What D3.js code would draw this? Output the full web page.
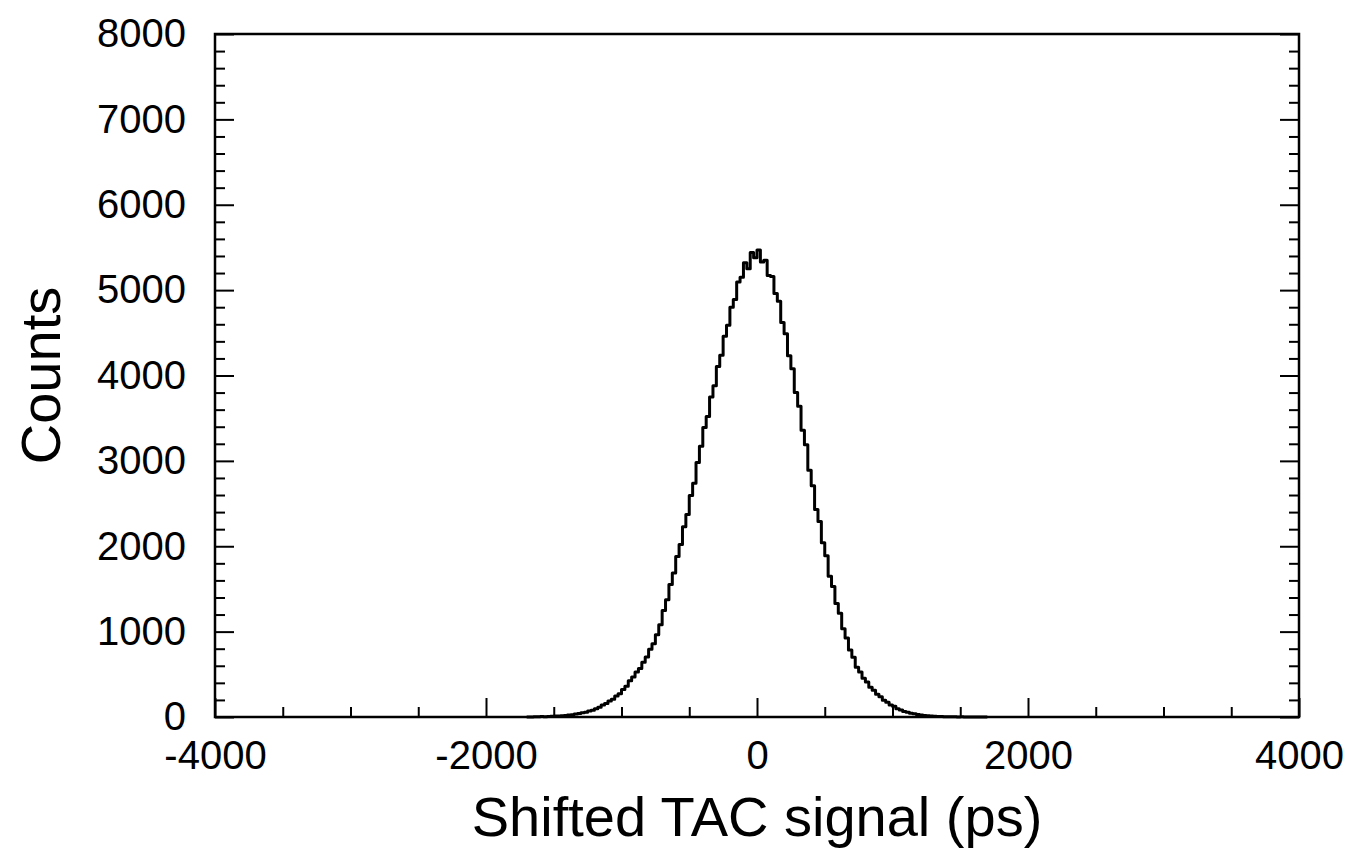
<!DOCTYPE html>
<html>
<head>
<meta charset="utf-8">
<script src="https://cdn.jsdelivr.net/npm/d3@7"></script>
<style>
  html, body { margin: 0; padding: 0; background: #fff; }
  svg { display: block; font-family: "Liberation Sans", Arial, Helvetica, sans-serif; }
</style>
</head>
<body>
<svg id="chart" width="1352" height="850"></svg>
<script>
// ---- data ----
const binStart = -1700;   // ps, left edge of first bin
const binWidth = 25;      // ps
const counts = [
  0, 1, 3, 2, 5, 4, 7, 8, 11, 12, 16, 18, 24, 27, 35, 40, 50, 55, 70, 79,
  98, 113, 141, 157, 186, 207, 246, 273, 322, 360, 424, 468, 526, 569, 641, 703, 793, 858, 962, 1081,
  1246, 1372, 1553, 1688, 1880, 2021, 2228, 2371, 2594, 2738, 2980, 3170, 3390, 3521, 3748, 3880, 4105, 4236, 4460, 4590,
  4800, 4890, 5095, 5150, 5320, 5250, 5440, 5380,
  5470, 5330, 5350, 5170, 5160, 4960, 4870, 4620, 4490, 4230, 4080, 3800, 3640, 3360, 3190, 2890, 2710, 2430, 2290, 2040,
  1890, 1650, 1530, 1330, 1215, 1035, 925, 785, 700, 583, 527, 455, 410, 348, 314, 266, 236, 195, 173, 142,
  125, 98, 82, 64, 56, 43, 37, 28, 24, 17, 15, 11, 10, 7, 6, 4, 4, 2, 3, 1,
  2, 1, 0, 1, 0, 0, 0, 0
];
const xDomain = [-4000, 4000];
const yDomain = [0, 8000];
const xMajorTicks = [-4000, -2000, 0, 2000, 4000];
const xMinorTicks = [-3500, -3000, -2500, -1500, -1000, -500, 500, 1000, 1500, 2500, 3000, 3500];
const yMajorTicks = [0, 1000, 2000, 3000, 4000, 5000, 6000, 7000, 8000];
const yMinorTicks = d3.range(200, 8000, 200).filter(v => v % 1000 !== 0);
const xTitle = "Shifted TAC signal (ps)";
const yTitle = "Counts";

// ---- layout ----
const pL = 215, pR = 1299, pT = 34, pB = 717;
const svg = d3.select("#chart");
const x = d3.scaleLinear().domain(xDomain).range([pL, pR]);
const y = d3.scaleLinear().domain(yDomain).range([pB, pT]);

const tickFont = 40, titleFont = 56;
const majorLen = 19, minorLen = 10;
const fmt = d => String(d);   // plain hyphen-minus like the original

function styleAxis(g) {
  g.select(".domain").remove();
  g.selectAll(".tick line").attr("stroke", "#000").attr("stroke-width", 2);
  g.selectAll("text").attr("fill", "#000").attr("font-size", tickFont)
    .attr("font-family", '"Liberation Sans", Arial, Helvetica, sans-serif');
}

// bottom axis: major with labels
svg.append("g").attr("transform", `translate(0,${pB})`)
  .call(d3.axisBottom(x).tickValues(xMajorTicks).tickSize(-majorLen).tickPadding(24).tickFormat(fmt))
  .call(styleAxis);
// bottom minor
svg.append("g").attr("transform", `translate(0,${pB})`)
  .call(d3.axisBottom(x).tickValues(xMinorTicks).tickSize(-minorLen).tickFormat(""))
  .call(styleAxis);
// left axis
svg.append("g").attr("transform", `translate(${pL},0)`)
  .call(d3.axisLeft(y).tickValues(yMajorTicks).tickSize(-majorLen).tickPadding(29).tickFormat(fmt))
  .call(styleAxis);
svg.append("g").attr("transform", `translate(${pL},0)`)
  .call(d3.axisLeft(y).tickValues(yMinorTicks).tickSize(-minorLen).tickFormat(""))
  .call(styleAxis);
// right axis (ticks only)
svg.append("g").attr("transform", `translate(${pR},0)`)
  .call(d3.axisRight(y).tickValues(yMajorTicks).tickSize(-majorLen).tickFormat(""))
  .call(styleAxis);
svg.append("g").attr("transform", `translate(${pR},0)`)
  .call(d3.axisRight(y).tickValues(yMinorTicks).tickSize(-minorLen).tickFormat(""))
  .call(styleAxis);

// histogram step line
const pts = counts.map((c, i) => [binStart + i * binWidth, c]);
pts.push([binStart + counts.length * binWidth, counts[counts.length - 1]]);
svg.append("path")
  .datum(pts)
  .attr("fill", "none")
  .attr("stroke", "#000")
  .attr("stroke-width", 3)
  .attr("stroke-linejoin", "round")
  .attr("d", d3.line().x(d => x(d[0])).y(d => y(d[1])).curve(d3.curveStepAfter));

// frame
svg.append("rect")
  .attr("x", pL).attr("y", pT)
  .attr("width", pR - pL).attr("height", pB - pT)
  .attr("fill", "none").attr("stroke", "#000").attr("stroke-width", 2.5);

// titles
svg.append("text")
  .attr("x", (pL + pR) / 2).attr("y", 836)
  .attr("text-anchor", "middle").attr("font-size", titleFont).attr("fill", "#000")
  .text(xTitle);
svg.append("text")
  .attr("transform", `translate(60,${(pT + pB) / 2}) rotate(-90)`)
  .attr("text-anchor", "middle").attr("font-size", titleFont).attr("fill", "#000")
  .text(yTitle);
</script>
</body>
</html>
